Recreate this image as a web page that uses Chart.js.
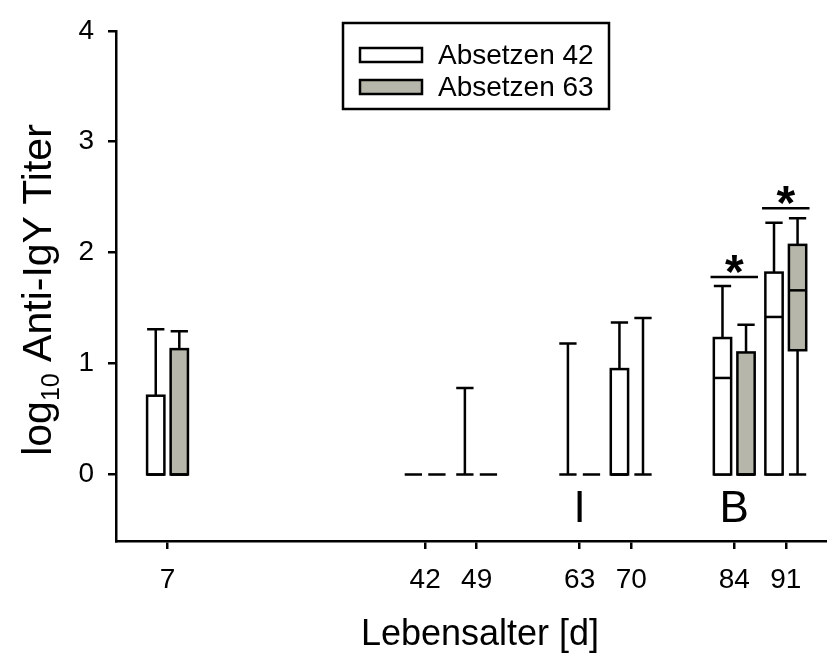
<!DOCTYPE html>
<html>
<head>
<meta charset="utf-8">
<title>Anti-IgY Titer</title>
<script src="https://cdn.jsdelivr.net/npm/chart.js@4"></script>
<style>
    html, body {
        margin: 0;
        padding: 0;
        background: #ffffff;
    }

    #titerChart {
        display: block;
    }
</style>
</head>
<body>
<canvas id="titerChart" width="827" height="655"></canvas>

<script>

/* =========================
   DATA
========================= */

const days = [7, 42, 49, 63, 70, 84, 91];

// Absetzen 42
const a42Low    = [0, 0, 0, 0, 0, 0, 0];
const a42Q1     = [0, 0, 0, 0, 0, 0, 0];
const a42Median = [0, 0, 0, 0, 0, 0.87, 1.42];
const a42Q3     = [0.71, 0, 0, 0, 0.95, 1.23, 1.82];
const a42High   = [1.31, 0, 0.78, 1.18, 1.37, 1.70, 2.27];

// Absetzen 63
const a63Low    = [0, 0, 0, 0, 0, 0, 0];
const a63Q1     = [0, 0, 0, 0, 0, 0, 1.12];
const a63Median = [0, 0, 0, 0, 0, 0, 1.66];
const a63Q3     = [1.13, 0, 0, 0, 0, 1.10, 2.07];
const a63High   = [1.29, 0, 0, 0, 1.41, 1.35, 2.31];

const yTicks = [0, 1, 2, 3, 4];

// significance brackets
const sigDays   = [84, 91];
const sigLevels = [1.78, 2.40];

// letters under the boxes
const letterDays  = [63, 84];
const letterTexts = ["I", "B"];

const seriesNames  = ["Absetzen 42", "Absetzen 63"];
const seriesColors = ["#ffffff", "#b6b6aa"];

/* =========================
   BOX PLOT PLUGIN
========================= */

const BOX_WIDTH  = 2.35;   // days
const BOX_OFFSET = 1.6;    // days from tick
const LINE_W     = 2.5;

const FONT = "'Liberation Sans', Arial, sans-serif";

function drawBox(ctx, x, y, center, s, fill) {

    const half = BOX_WIDTH / 2;

    const left   = x.getPixelForValue(center - half);
    const right  = x.getPixelForValue(center + half);

    const pQ1  = y.getPixelForValue(s.q1);
    const pQ3  = y.getPixelForValue(s.q3);
    const pMed = y.getPixelForValue(s.med);
    const pLo  = y.getPixelForValue(s.lo);
    const pHi  = y.getPixelForValue(s.hi);
    const mid  = x.getPixelForValue(center);

    ctx.strokeStyle = "#000";
    ctx.lineWidth = LINE_W;

    // whiskers
    ctx.beginPath();
    if (s.hi > s.q3) {
        ctx.moveTo(mid, pQ3);
        ctx.lineTo(mid, pHi);
    }
    if (s.lo < s.q1) {
        ctx.moveTo(mid, pQ1);
        ctx.lineTo(mid, pLo);
    }
    ctx.moveTo(left, pHi);
    ctx.lineTo(right, pHi);
    ctx.moveTo(left, pLo);
    ctx.lineTo(right, pLo);
    ctx.stroke();

    // box
    if (s.q3 > s.q1) {
        ctx.fillStyle = fill;
        ctx.fillRect(left, pQ3, right - left, pQ1 - pQ3);
        ctx.strokeRect(left, pQ3, right - left, pQ1 - pQ3);

        ctx.beginPath();
        ctx.moveTo(left, pMed);
        ctx.lineTo(right, pMed);
        ctx.stroke();
    }

}

const boxPlotPlugin = {

    id: "boxPlot",

    afterDatasetsDraw(chart) {

        const ctx = chart.ctx;
        const x = chart.scales.x;
        const y = chart.scales.y;

        ctx.save();
        ctx.lineCap = "butt";

        days.forEach((d, i) => {

            drawBox(ctx, x, y, d - BOX_OFFSET, {
                lo: a42Low[i], q1: a42Q1[i], med: a42Median[i],
                q3: a42Q3[i], hi: a42High[i]
            }, seriesColors[0]);

            drawBox(ctx, x, y, d + BOX_OFFSET, {
                lo: a63Low[i], q1: a63Q1[i], med: a63Median[i],
                q3: a63Q3[i], hi: a63High[i]
            }, seriesColors[1]);

        });

        // significance lines and stars
        sigDays.forEach((d, i) => {

            const span = BOX_OFFSET + BOX_WIDTH / 2 + 0.45;
            const py = y.getPixelForValue(sigLevels[i]);

            ctx.beginPath();
            ctx.moveTo(x.getPixelForValue(d - span), py);
            ctx.lineTo(x.getPixelForValue(d + span), py);
            ctx.stroke();

            ctx.fillStyle = "#000";
            ctx.font = "bold 48px " + FONT;
            ctx.textAlign = "center";
            ctx.textBaseline = "alphabetic";
            ctx.fillText("*", x.getPixelForValue(d), py + 11);

        });

        // letters
        ctx.font = "44px " + FONT;
        ctx.textAlign = "center";
        ctx.textBaseline = "alphabetic";
        letterDays.forEach((d, i) => {
            ctx.fillText(letterTexts[i], x.getPixelForValue(d), y.getPixelForValue(-0.43));
        });

        ctx.restore();

    }

};

/* =========================
   LEGEND + AXIS TITLES
========================= */

const decorPlugin = {

    id: "decor",

    afterDraw(chart) {

        const ctx = chart.ctx;

        ctx.save();

        // legend frame
        ctx.strokeStyle = "#000";
        ctx.lineWidth = LINE_W;
        ctx.strokeRect(343, 23, 266, 86);

        ctx.font = "28px " + FONT;
        ctx.textBaseline = "middle";
        ctx.textAlign = "left";

        seriesNames.forEach((name, i) => {
            const top = 48 + i * 32;
            ctx.fillStyle = seriesColors[i];
            ctx.fillRect(360, top, 62, 14);
            ctx.strokeRect(360, top, 62, 14);
            ctx.fillStyle = "#000";
            ctx.fillText(name, 438, top + 8);
        });

        // x title
        ctx.font = "36px " + FONT;
        ctx.textAlign = "center";
        ctx.textBaseline = "alphabetic";
        ctx.fillText("Lebensalter [d]", 480, 645);

        // y title with subscript
        ctx.translate(51, 290);
        ctx.rotate(-Math.PI / 2);

        const main = "log";
        const sub = "10";
        const rest = " Anti-IgY Titer";

        ctx.font = "41px " + FONT;
        const wMain = ctx.measureText(main).width;
        const wRest = ctx.measureText(rest).width;
        ctx.font = "25px " + FONT;
        const wSub = ctx.measureText(sub).width;

        let cx = -(wMain + wSub + wRest) / 2;
        ctx.textAlign = "left";

        ctx.font = "41px " + FONT;
        ctx.fillText(main, cx, 0);
        cx += wMain;

        ctx.font = "25px " + FONT;
        ctx.fillText(sub, cx, 8);
        cx += wSub;

        ctx.font = "41px " + FONT;
        ctx.fillText(rest, cx, 0);

        ctx.restore();

    }

};

/* =========================
   CHART
========================= */

const axisColor = "#000000";

new Chart(document.getElementById("titerChart"), {

    type: "scatter",

    data: {
        datasets: []
    },

    options: {

        responsive: false,
        animation: false,

        layout: {
            padding: { top: 24, right: 0, left: 0, bottom: 0 }
        },

        plugins: {
            legend: { display: false },
            tooltip: { enabled: false }
        },

        scales: {

            x: {
                type: "linear",
                min: 0,
                max: 96.6,
                afterBuildTicks: scale => {
                    scale.ticks = days.map(v => ({ value: v }));
                },
                afterFit: scale => {
                    scale.height = 114;
                },
                grid: {
                    drawOnChartArea: false,
                    color: axisColor,
                    lineWidth: LINE_W,
                    tickLength: 8
                },
                border: { color: axisColor, width: LINE_W },
                ticks: {
                    color: "#000",
                    padding: 14,
                    maxRotation: 0,
                    autoSkip: false,
                    font: { family: FONT, size: 28 }
                }
            },

            y: {
                min: -0.6,
                max: 4,
                afterBuildTicks: scale => {
                    scale.ticks = yTicks.map(v => ({ value: v }));
                },
                afterFit: scale => {
                    scale.width = 116;
                },
                grid: {
                    drawOnChartArea: false,
                    color: axisColor,
                    lineWidth: LINE_W,
                    tickLength: 8
                },
                border: { color: axisColor, width: LINE_W },
                ticks: {
                    color: "#000",
                    padding: 14,
                    font: { family: FONT, size: 28 }
                }
            }

        }

    },

    plugins: [boxPlotPlugin, decorPlugin]

});

</script>
</body>
</html>
